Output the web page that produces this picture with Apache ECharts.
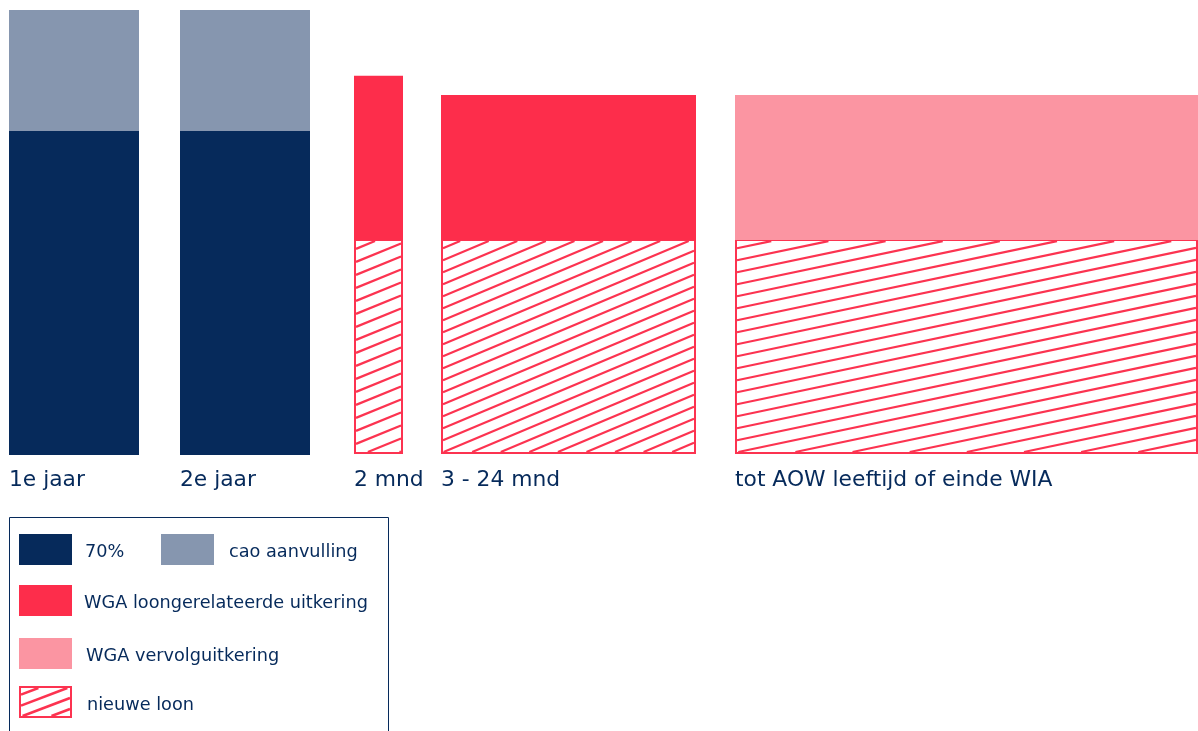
<!DOCTYPE html>
<html><head><meta charset="utf-8">
<script src="https://cdn.jsdelivr.net/npm/echarts@6/dist/echarts.min.js"></script>
<style>html,body{margin:0;padding:0;background:#fff}#c{width:1198px;height:731px}</style>
</head><body><div id="c"></div><script>
// ---- data ----
const categories = ['1e jaar', '2e jaar', '2 mnd', '3 - 24 mnd', 'tot AOW leeftijd of einde WIA'];
const periodStart = [0, 171, 345, 432, 726];
const periodEnd = [130, 301, 394, 687, 1189];
const loon70 = [72.8, 72.8, 0, 0, 0];
const nieuweLoon = [0, 0, 48.3, 48.3, 48.3];
const caoAanvulling = [27.2, 27.2, 0, 0, 0];
const wgaLoongerelateerd = [0, 0, 36.9, 32.6, 0];
const wgaVervolg = [0, 0, 0, 0, 32.6];
const seriesNames = ['70%', 'nieuwe loon', 'cao aanvulling', 'WGA loongerelateerde uitkering', 'WGA vervolguitkering'];

// ---- styles ----
const NAVY = '#062a5b', GREY = '#8696af', RED = '#fd2d4b', PINK = '#fb95a2', HATCH = '#fc3350';
const seriesColors = [NAVY, 'hatch', GREY, RED, PINK];
const hatchStyle = { 2: { slope: 0.41, gap: 13 }, 3: { slope: 0.42, gap: 12 }, 4: { slope: 0.21, gap: 12 } };
const FONT = 'DejaVu Sans';

const stackOrder = [loon70, nieuweLoon, caoAanvulling, wgaLoongerelateerd, wgaVervolg];
const segments = [];
categories.forEach((c, i) => {
  let base = 0;
  stackOrder.forEach((arr, s) => {
    const v = arr[i];
    if (v > 0) { segments.push([periodStart[i], periodEnd[i], base, base + v, s, i]); base += v; }
  });
});

function hatchLines(L, T, R, B, slope, gap, lw) {
  const out = [];
  const cMax = B + slope * (R - L);
  for (let c = T + gap * 0.6; c < cMax; c += gap) {
    const xa = Math.max(L, L + (c - B) / slope);
    const xb = Math.min(R, L + (c - T) / slope);
    if (xb - xa < 1) continue;
    out.push({
      type: 'line',
      shape: { x1: xa, y1: c - slope * (xa - L), x2: xb, y2: c - slope * (xb - L) },
      style: { stroke: HATCH, lineWidth: lw }
    });
  }
  return out;
}

function renderItem(params, api) {
  const p0 = api.coord([api.value(0), api.value(3)]);
  const p1 = api.coord([api.value(1), api.value(2)]);
  const L = p0[0], T = p0[1], R = p1[0], B = p1[1];
  const s = api.value(4), ci = api.value(5);
  const children = [];
  if (seriesColors[s] === 'hatch') {
    const hs = hatchStyle[ci];
    children.push({ type: 'rect', shape: { x: L + 1, y: T, width: R - L - 2, height: B - T - 2 }, style: { fill: '#fff', stroke: HATCH, lineWidth: 2 } });
    children.push(...hatchLines(L + 2, T + 1, R - 2, B - 3, hs.slope, hs.gap, 2.2));
  } else {
    children.push({ type: 'rect', shape: { x: L, y: T, width: R - L, height: B - T }, style: { fill: seriesColors[s] } });
  }
  if (api.value(2) === 0) {
    children.push({ type: 'text', x: L, y: B + 25, style: { text: categories[ci], fill: NAVY, font: '21.8px "' + FONT + '"', textAlign: 'left', textVerticalAlign: 'middle' } });
  }
  return { type: 'group', children };
}

// ---- legend (graphic) ----
const legendItems = [
  { name: '70%', color: NAVY, x: 19, y: 534, tx: 85 },
  { name: 'cao aanvulling', color: GREY, x: 161, y: 534, tx: 229 },
  { name: 'WGA loongerelateerde uitkering', color: RED, x: 19, y: 585, tx: 84 },
  { name: 'WGA vervolguitkering', color: PINK, x: 19, y: 638, tx: 86 },
  { name: 'nieuwe loon', color: 'hatch', x: 19, y: 687, tx: 87 }
];
const graphic = [{ type: 'rect', shape: { x: 9.5, y: 517.5, width: 379, height: 300 }, style: { fill: 'none', stroke: NAVY, lineWidth: 1 } }];
legendItems.forEach(it => {
  if (it.color === 'hatch') {
    graphic.push({ type: 'rect', shape: { x: it.x + 1, y: it.y, width: 51, height: 30 }, style: { fill: '#fff', stroke: HATCH, lineWidth: 2 } });
    hatchLines(it.x + 2, it.y + 1, it.x + 51, it.y + 29, 0.38, 11, 2.6).forEach(l => graphic.push(l));
  } else {
    graphic.push({ type: 'rect', shape: { x: it.x, y: it.y, width: 53, height: 31 }, style: { fill: it.color } });
  }
  graphic.push({ type: 'text', x: it.tx, y: it.y + 18, style: { text: it.name, fill: NAVY, font: '17.7px "' + FONT + '"', textVerticalAlign: 'middle' } });
});

const chart = echarts.init(document.getElementById('c'), null, { renderer: 'canvas' });
chart.setOption({
  animation: false,
  backgroundColor: '#fff',
  grid: { left: 0, right: 0, top: 10, bottom: 276 },
  xAxis: { type: 'value', min: -9, max: 1189, show: false },
  yAxis: { type: 'value', min: 0, max: 100, show: false },
  graphic,
  series: [{ type: 'custom', renderItem, data: segments, clip: false }]
});
</script></body></html>
